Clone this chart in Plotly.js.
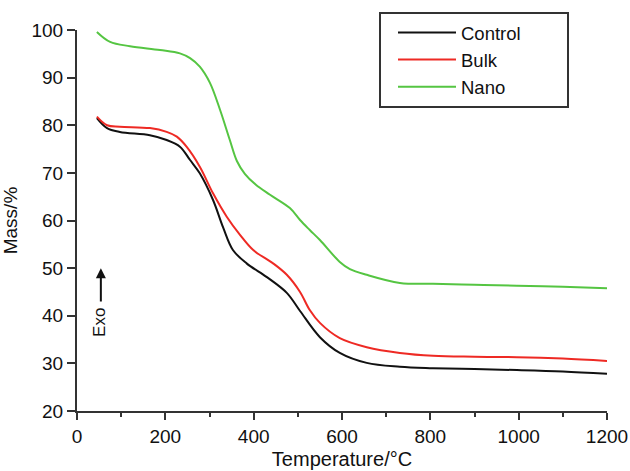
<!DOCTYPE html>
<html>
<head>
<meta charset="utf-8">
<script src="https://cdn.plot.ly/plotly-3.0.1.min.js"></script>
<style>html,body{margin:0;padding:0;background:#fff;}#chart{width:630px;height:471px;}</style>
</head>
<body>
<div id="chart"></div>
<script>
// Series names
const seriesNames = ["Control", "Bulk", "Nano"];
const seriesColors = ["#111111", "#ee2a24", "#55c542"];

// Control (black)
const controlX = [45, 68, 97, 165, 203, 233, 256, 278, 308, 331, 353, 384, 430, 475, 505, 550, 595, 656, 731, 806, 900, 996, 1100, 1200];
const controlY = [81.5, 79.4, 78.6, 77.9, 76.9, 75.5, 72.7, 69.9, 64.3, 58.5, 53.8, 51.0, 48.1, 44.8, 41.0, 35.5, 32.2, 30.1, 29.3, 29.0, 28.8, 28.6, 28.3, 27.8];

// Bulk (red)
const bulkX = [45, 68, 97, 165, 203, 226, 248, 278, 308, 339, 369, 399, 444, 475, 505, 527, 550, 595, 656, 731, 806, 900, 996, 1100, 1200];
const bulkY = [81.8, 80.0, 79.7, 79.4, 78.6, 77.6, 75.5, 71.3, 65.7, 60.8, 57.0, 53.8, 51.0, 48.6, 45.0, 41.2, 38.5, 35.3, 33.4, 32.2, 31.6, 31.4, 31.3, 31.0, 30.5];

// Nano (green)
const nanoX = [45, 75, 120, 188, 233, 256, 278, 301, 324, 346, 362, 380, 405, 437, 482, 505, 527, 550, 595, 618, 656, 731, 806, 900, 996, 1100, 1200];
const nanoY = [99.6, 97.5, 96.6, 95.8, 95.1, 94.1, 92.3, 88.9, 83.2, 76.9, 72.5, 69.8, 67.5, 65.4, 62.6, 60.1, 58.0, 55.9, 51.3, 49.8, 48.6, 46.9, 46.7, 46.5, 46.3, 46.1, 45.8];

// Axis ticks
const xTicks = [0, 200, 400, 600, 800, 1000, 1200];
const yTicks = [20, 30, 40, 50, 60, 70, 80, 90, 100];

const FONT = "'Liberation Sans', Arial, Helvetica, sans-serif";

const xs = [controlX, bulkX, nanoX];
const ys = [controlY, bulkY, nanoY];
const traces = seriesNames.map((n, i) => ({
  type: 'scatter', mode: 'lines', name: n,
  x: xs[i], y: ys[i],
  line: {color: seriesColors[i], width: 2, shape: 'spline', smoothing: 1}
}));

// legend frame geometry (paper coords): plot area x 77..607, y 30..411 px
const px2x = p => (p - 77) / 530;
const px2y = p => (411 - p) / 381;

const layout = {
  width: 630, height: 471,
  margin: {l: 77, r: 23, t: 30, b: 60},
  paper_bgcolor: '#fff', plot_bgcolor: '#fff',
  font: {family: FONT, size: 19, color: '#111'},
  showlegend: true,
  legend: {
    x: px2x(393), y: px2y(14), xanchor: 'left', yanchor: 'top',
    bgcolor: 'rgba(255,255,255,0)', borderwidth: 0,
    font: {family: FONT, size: 18.5, color: '#111'},
    tracegroupgap: 0, itemwidth: 58
  },
  shapes: [
    {type: 'rect', xref: 'paper', yref: 'paper',
     x0: px2x(380), x1: px2x(568), y0: px2y(107), y1: px2y(13),
     line: {color: '#333', width: 2}, fillcolor: 'rgba(0,0,0,0)'}
  ],
  xaxis: {
    range: [0, 1200], tickvals: xTicks, ticktext: xTicks.map(String),
    showgrid: false, zeroline: false, showline: true, linecolor: '#333', linewidth: 2,
    ticks: 'outside', ticklen: 7, tickwidth: 2, tickcolor: '#333',
    minor: {dtick: 100, tick0: 0, ticks: 'outside', ticklen: 4, tickwidth: 2, tickcolor: '#333'},
    tickfont: {family: FONT, size: 19, color: '#111'},
    title: {text: 'Temperature/°C', font: {family: FONT, size: 20, color: '#111'}, standoff: 6}
  },
  yaxis: {
    range: [20, 100], tickvals: yTicks, ticktext: yTicks.map(String),
    showgrid: false, zeroline: false, showline: true, linecolor: '#333', linewidth: 2,
    ticks: 'outside', ticklen: 8, tickwidth: 2, tickcolor: '#333',
    tickfont: {family: FONT, size: 19, color: '#111'},
    title: {text: 'Mass/%', font: {family: FONT, size: 19, color: '#111'}, standoff: 10}
  },
  annotations: [
    {x: 52, y: 38.7, xref: 'x', yref: 'y', text: 'Exo', textangle: -90, showarrow: false,
     font: {family: FONT, size: 17, color: '#111'}},
    {x: 54, y: 50.0, xref: 'x', yref: 'y', ax: 54, ay: 42.7, axref: 'x', ayref: 'y',
     text: '', showarrow: true, arrowhead: 2, arrowsize: 1, arrowwidth: 2, arrowcolor: '#111'}
  ]
};

Plotly.newPlot('chart', traces, layout, {displayModeBar: false, staticPlot: true});
</script>
</body>
</html>
